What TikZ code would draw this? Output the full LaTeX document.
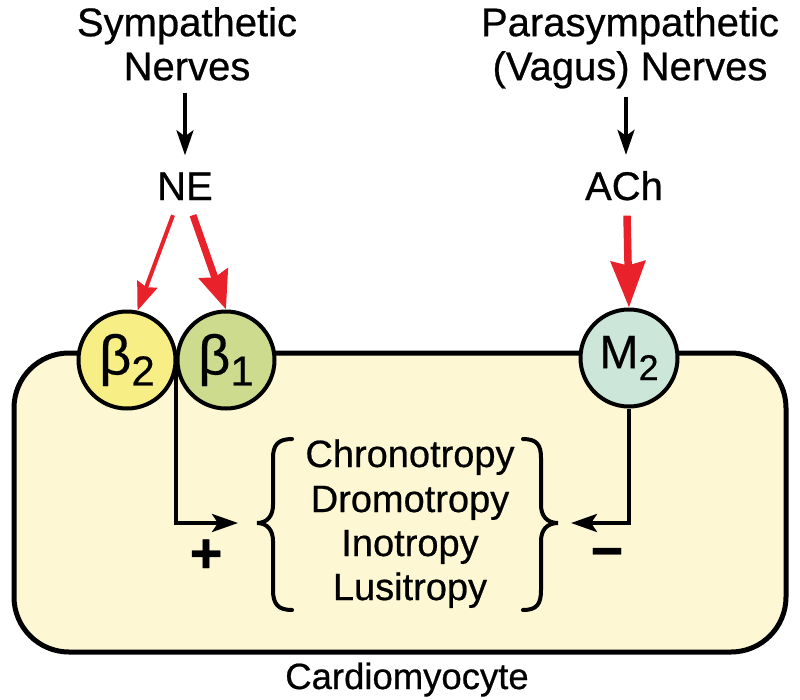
\documentclass[tikz,border=0pt]{standalone}
\usepackage{fontspec}
\setmainfont{Liberation Sans}[FakeBold=0.6]
\newfontfamily\symfont{Liberation Sans}[FakeBold=0.4]
\usetikzlibrary{arrows.meta,calc}
\definecolor{cellfill}{HTML}{FDF7D4}
\definecolor{btwo}{HTML}{F8EE86}
\definecolor{bone}{HTML}{CCDB8E}
\definecolor{mtwo}{HTML}{CDE6DA}
\definecolor{nred}{HTML}{E8212B}
\tikzset{
  lbl/.style={inner sep=0pt, font=\fontsize{40}{44}\selectfont},
  body/.style={inner sep=0pt, font=\fontsize{38}{44}\selectfont},
  rec/.style={circle, draw=black, line width=4pt, minimum size=97pt, inner sep=0pt},
  blackarrow/.style={line width=3.5pt, -{Stealth[length=25pt, width=17pt, inset=6pt]}},
  redthin/.style={draw=nred, line width=4pt, -{Stealth[length=28pt, width=21pt, inset=3pt]}},
  redthick/.style={draw=nred, line width=7pt, -{Stealth[length=38pt, width=30pt, inset=4pt]}},
  redthicker/.style={draw=nred, line width=7.5pt, -{Stealth[length=46pt, width=34pt, inset=4pt]}},
  conn/.style={line width=4pt, -{Stealth[length=26pt, width=18pt, inset=6pt]}},
  bracestyle/.style={line width=4pt, line cap=round},
  sign/.style={inner sep=0pt, font=\fontsize{56}{56}\bfseries\selectfont}
}
\begin{document}
\begin{tikzpicture}[x=1pt,y=-1pt]
\useasboundingbox (0,0) rectangle (800,699);
\fill[white] (0,0) rectangle (800,699);

% cell
\node[draw=black, fill=cellfill, line width=5pt, rounded corners=55pt,
      minimum width=772pt, minimum height=299pt, inner sep=0pt] (cell) at (400,502.5) {};
\node[body, anchor=base, font=\fontsize{36.5}{44}\selectfont] (cardio) at (407,689) {Cardiomyocyte};

% top labels
\node[lbl, align=center, anchor=north] (symp) at (187,7) {Sympathetic\\Nerves};
\node[lbl, align=center, anchor=north] (para) at (630,7) {Parasympathetic\\(Vagus) Nerves};
\node[lbl, anchor=base] (ne) at (185,200) {NE};
\node[lbl, anchor=base] (ach) at (624,200) {ACh};

\draw[blackarrow, shorten <=12pt, shorten >=17pt] (symp.south -| ne.north) -- (ne.north);
\draw[blackarrow, shorten <=8pt, shorten >=16pt] ($(para.south -| ach.north)+(2,0)$) -- ($(ach.north)+(2,0)$);

% receptors
\node[rec, fill=btwo] (b2) at (127,360) {\symfont{\fontsize{56}{56}\selectfont β}\raisebox{-11pt}{\fontsize{42}{42}\selectfont 2}};
\node[rec, fill=bone] (b1) at (226,360) {\symfont{\fontsize{56}{56}\selectfont β}\raisebox{-11pt}{\fontsize{42}{42}\selectfont 1}};
\node[rec, fill=mtwo] (m2) at (629,358) {\symfont{\fontsize{47}{47}\selectfont M}\raisebox{-12pt}{\fontsize{36}{36}\selectfont 2}};

% red arrows
\draw[redthin] ($(ne.south)+(-12,15)$) -- (b2.78);
\draw[redthick] ($(ne.south)+(8,15)$) -- (b1.north);
\draw[redthicker] ($(ach.south)+(3,15)$) -- (m2.north);

% effects
\node[body, anchor=base] (c1) at (410,467) {Chronotropy};
\node[body, anchor=base] (c2) at (410,512) {Dromotropy};
\node[body, anchor=base] (c3) at (410,556) {Inotropy};
\node[body, anchor=base] (c4) at (410,600) {Lusitropy};

% braces
\draw[bracestyle] (292,439) .. controls (278,439) and (273,445) .. (273,458) -- (273,505)
  .. controls (273,516) and (267,523) .. (257,523)
  .. controls (267,523) and (273,530) .. (273,541) -- (273,590)
  .. controls (273,604) and (278,610) .. (292,610);
\draw[bracestyle] (523,439) .. controls (537,439) and (541,445) .. (541,458) -- (541,505)
  .. controls (541,516) and (547,523) .. (558,523)
  .. controls (547,523) and (541,530) .. (541,541) -- (541,590)
  .. controls (541,604) and (537,610) .. (523,610);

% connectors
\coordinate (lp) at (238,523);
\coordinate (rp) at (571,523);
\draw[conn] (b1.west) |- (lp);
\draw[conn] (m2.south) |- (rp);

\node[sign] (plus) at (206,556) {+};
\node[sign] (minus) at (607,559) {−};
\end{tikzpicture}
\end{document}
